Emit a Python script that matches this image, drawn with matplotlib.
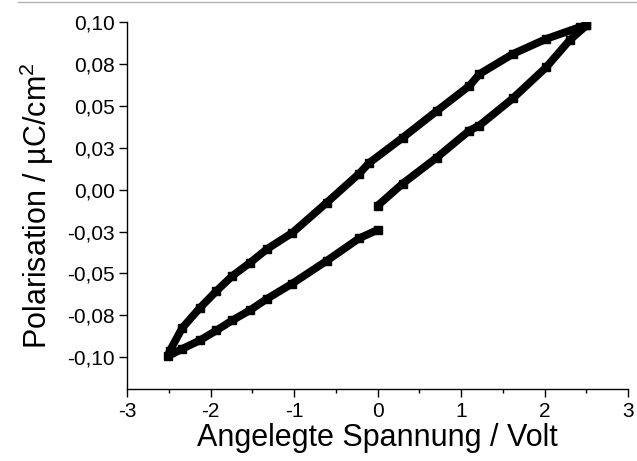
import matplotlib
matplotlib.use("Agg")
import matplotlib.pyplot as plt
from matplotlib.lines import Line2D

plt.rcParams['font.family'] = ['Liberation Sans', 'DejaVu Sans']
plt.rcParams['mathtext.fontset'] = 'custom'
plt.rcParams['mathtext.rm'] = 'Liberation Sans'
plt.rcParams['mathtext.default'] = 'regular'

# branch 1: 0 V -> +2.5 V
volt_up1 = [0.0, 0.30, 0.71, 1.10, 1.22, 1.62, 2.02, 2.30, 2.50]
pol_up1 = [-0.0096, 0.0036, 0.0192, 0.0353, 0.0383, 0.0545, 0.0731, 0.0892, 0.098]

# branch 2: +2.5 V -> -2.5 V
volt_down = [2.50, 2.42, 2.02, 1.62, 1.22, 1.10, 0.71, 0.30, -0.10, -0.22, -0.61,
             -1.02, -1.32, -1.53, -1.74, -1.93, -2.13, -2.34, -2.49, -2.51]
pol_down = [0.098, 0.097, 0.090, 0.081, 0.069, 0.062, 0.047, 0.031, 0.016, 0.0096,
            -0.0078, -0.0257, -0.0353, -0.0437, -0.0515, -0.0605, -0.0707, -0.0826,
            -0.0964, -0.0994]

# branch 3: -2.5 V -> 0 V
volt_up2 = [-2.51, -2.34, -2.13, -1.93, -1.74, -1.53, -1.32, -1.02, -0.61, -0.22, 0.0]
pol_up2 = [-0.099, -0.095, -0.090, -0.084, -0.078, -0.072, -0.065, -0.056, -0.0425,
           -0.029, -0.024]

xticks = [-3, -2, -1, 0, 1, 2, 3]
yticks = [0.10, 0.075, 0.05, 0.025, 0.0, -0.025, -0.05, -0.075, -0.10]
ytick_labels = ['0,10', '0,08', '0,05', '0,03', '0,00', '-0,03', '-0,05', '-0,08', '-0,10']

fig = plt.figure(figsize=(6.37, 4.61), dpi=100)
ax = fig.add_axes([0.1994, 0.156, 0.7866, 0.796])

# the two ends near 0 V are not joined, so branch 1 is its own line
ax.plot(volt_up1, pol_up1, color='black', lw=5.6, marker='s', ms=5.2,
        solid_joinstyle='round', solid_capstyle='butt')
ax.plot(volt_down + volt_up2[1:], pol_down + pol_up2[1:], color='black', lw=5.6,
        marker='s', ms=5.2, solid_joinstyle='round', solid_capstyle='butt')

ax.set_xlim(-3, 3)
ax.set_ylim(-0.119, 0.10)
ax.set_xticks(xticks)
ax.set_xticklabels([str(t) for t in xticks])
ax.set_xticks([-2.5, -1.5, -0.5, 0.5, 1.5, 2.5], minor=True)
ax.set_yticks(yticks)
ax.set_yticklabels(ytick_labels)

for s in ['top', 'right']:
    ax.spines[s].set_visible(False)
for s in ['left', 'bottom']:
    ax.spines[s].set_linewidth(1.0)

ax.tick_params(axis='both', which='major', direction='out', length=5.5, width=1.0,
               labelsize=15, pad=3.5)
ax.tick_params(axis='x', which='minor', direction='out', length=3, width=1.0)

ax.set_xlabel('Angelegte Spannung / Volt', fontsize=22, labelpad=2)
ax.set_ylabel('Polarisation / µC/cm$^2$', fontsize=22, labelpad=8)

fig.add_artist(Line2D([18 / 637, 1.0], [1 - 2 / 461, 1 - 2 / 461], color='#b4b4b4', lw=1.0))

fig.savefig('out.png', dpi=100)
